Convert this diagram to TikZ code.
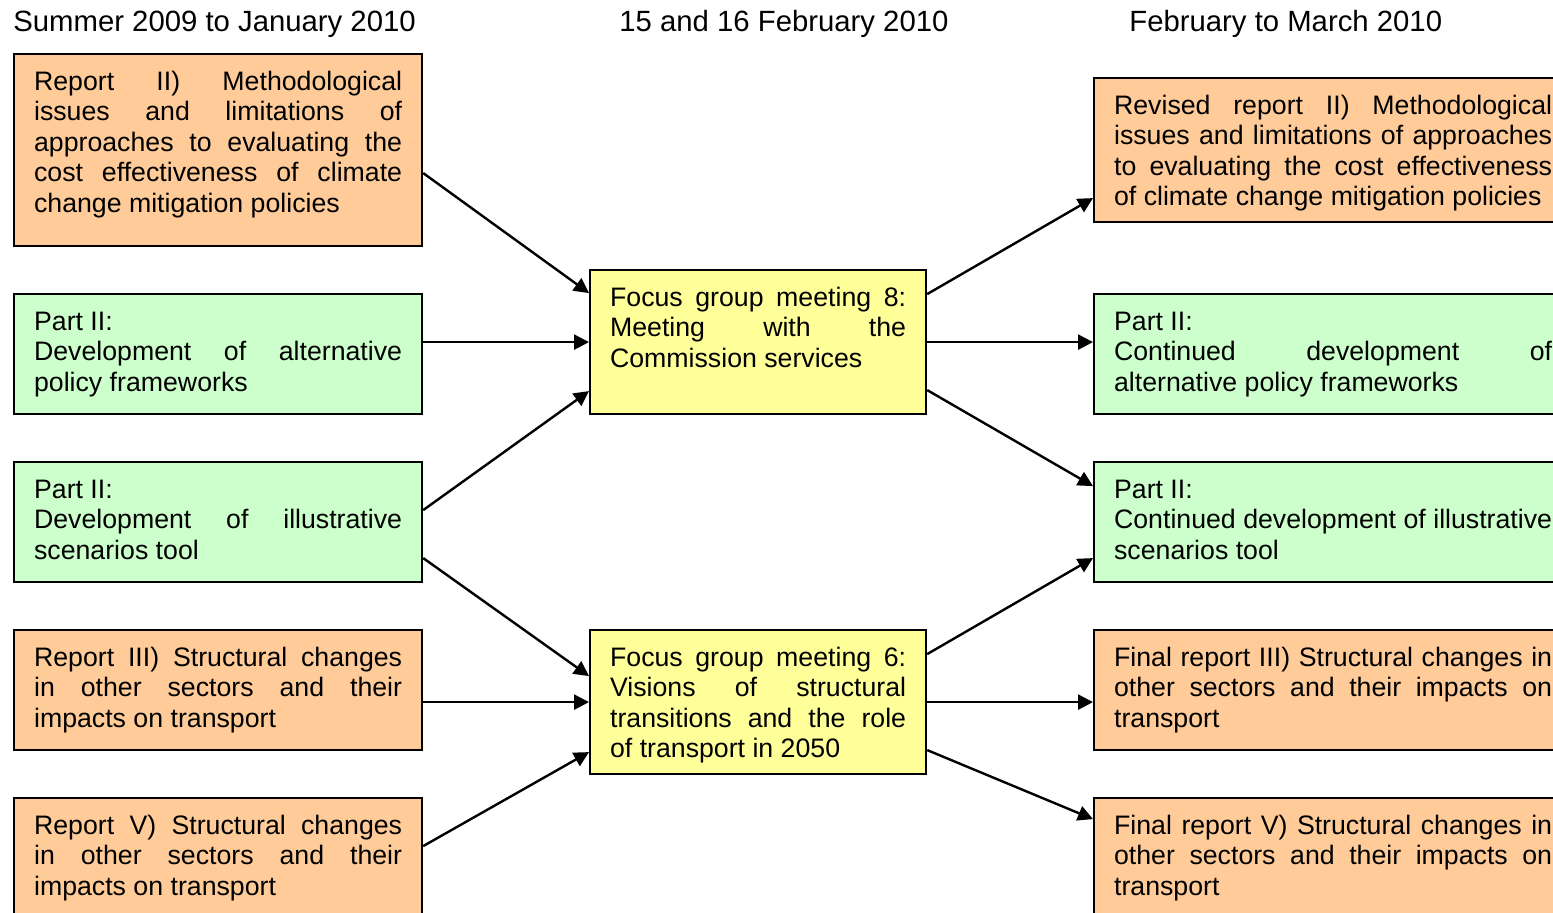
\documentclass[tikz,border=0pt]{standalone}
\usepackage{fontspec}
\setmainfont{Liberation Sans}
\usetikzlibrary{arrows.meta}

\definecolor{reportorange}{HTML}{FFCC99}
\definecolor{partgreen}{HTML}{CCFFCC}
\definecolor{meetyellow}{HTML}{FFFF99}

\newcommand{\cardfont}{\fontsize{13.35pt}{15.25pt}\selectfont}
\newcommand{\headfont}{\fontsize{14.65pt}{17pt}\selectfont}
% box text: fixed height, top aligned, justified
\newcommand{\cardtext}[3]{\parbox[c][#1][t]{#2}{\tolerance=10000\hbadness=10000\hyphenpenalty=10000\rule{0pt}{18pt}#3}}

\tikzset{
  card/.style={draw, line width=1.1pt, inner xsep=10pt, inner ysep=0pt, anchor=north west, font=\cardfont},
  report/.style={card, fill=reportorange},
  part/.style={card, fill=partgreen},
  meeting/.style={card, fill=meetyellow},
  head/.style={anchor=base west, inner sep=0pt, font=\headfont},
  flow/.style={line width=1.2pt, -{Triangle[length=7.5pt,width=7.5pt]}}
}

\begin{document}
\begin{tikzpicture}[x=0.5pt, y=-0.5pt]
	\useasboundingbox (0,0) rectangle (1553,913);
	% column headings
	\node[head] (hdleft) at (13,32) {Summer 2009 to January 2010};
	\node[head] (hdmid) at (619,32) {15 and 16 February 2010};
	\node[head] (hdright) at (1129,32) {February to March 2010};
	% left column
	\node[report] (L1) at (13,53) {\cardtext{96pt}{184pt}{Report II) Methodological\linebreak issues and limitations of\linebreak approaches to evaluating the\linebreak cost effectiveness of climate\linebreak change mitigation policies}};
	\node[part] (L2) at (13,293) {\cardtext{60pt}{184pt}{Part II:\\ Development of alternative\linebreak policy frameworks}};
	\node[part] (L3) at (13,461) {\cardtext{60pt}{184pt}{Part II:\\ Development of illustrative\linebreak scenarios tool}};
	\node[report] (L4) at (13,629) {\cardtext{60pt}{184pt}{Report III) Structural changes\linebreak in other sectors and their\linebreak impacts on transport}};
	\node[report] (L5) at (13,797) {\cardtext{60pt}{184pt}{Report V) Structural changes\linebreak in other sectors and their\linebreak impacts on transport}};
	% meetings
	\node[meeting] (M1) at (589,269) {\cardtext{72pt}{148pt}{Focus group meeting 8:\linebreak Meeting with the\linebreak Commission services}};
	\node[meeting] (M2) at (589,629) {\cardtext{72pt}{148pt}{Focus group meeting 6:\linebreak Visions of structural\linebreak transitions and the role\linebreak of transport in 2050}};
	% right column
	\node[report] (R1) at (1093,77) {\cardtext{72pt}{219pt}{Revised report II) Methodological\linebreak issues and limitations of approaches\linebreak to evaluating the cost effectiveness\linebreak of climate change mitigation policies}};
	\node[part] (R2) at (1093,293) {\cardtext{60pt}{219pt}{Part II:\\ Continued development of\linebreak alternative policy frameworks}};
	\node[part] (R3) at (1093,461) {\cardtext{60pt}{219pt}{Part II:\\ Continued development of illustrative\linebreak scenarios tool}};
	\node[report] (R4) at (1093,629) {\cardtext{60pt}{219pt}{Final report III) Structural changes in\linebreak other sectors and their impacts on\linebreak transport}};
	\node[report] (R5) at (1093,797) {\cardtext{60pt}{219pt}{Final report V) Structural changes in\linebreak other sectors and their impacts on\linebreak transport}};
	% inputs to the meetings
	\draw[flow] ([yshift=-11.5pt]L1.east) -- ([yshift=24.5pt]M1.west);
	\draw[flow] ([yshift=6pt]L2.east) -- (M1.west);
	\draw[flow] ([yshift=6pt]L3.east) -- ([yshift=-24.5pt]M1.west);
	\draw[flow] ([yshift=-18pt]L3.east) -- ([yshift=13pt]M2.west);
	\draw[flow] ([yshift=-6pt]L4.east) -- (M2.west);
	\draw[flow] ([yshift=6pt]L5.east) -- ([yshift=-25pt]M2.west);
	% outputs of the meetings
	\draw[flow] ([yshift=24pt]M1.east) -- ([yshift=-24pt]R1.west);
	\draw[flow] (M1.east) -- ([yshift=6pt]R2.west);
	\draw[flow] ([yshift=-24pt]M1.east) -- ([yshift=18pt]R3.west);
	\draw[flow] ([yshift=24pt]M2.east) -- ([yshift=-18pt]R3.west);
	\draw[flow] (M2.east) -- ([yshift=-6pt]R4.west);
	\draw[flow] ([yshift=-24pt]M2.east) -- ([yshift=19.5pt]R5.west);
\end{tikzpicture}
\end{document}
